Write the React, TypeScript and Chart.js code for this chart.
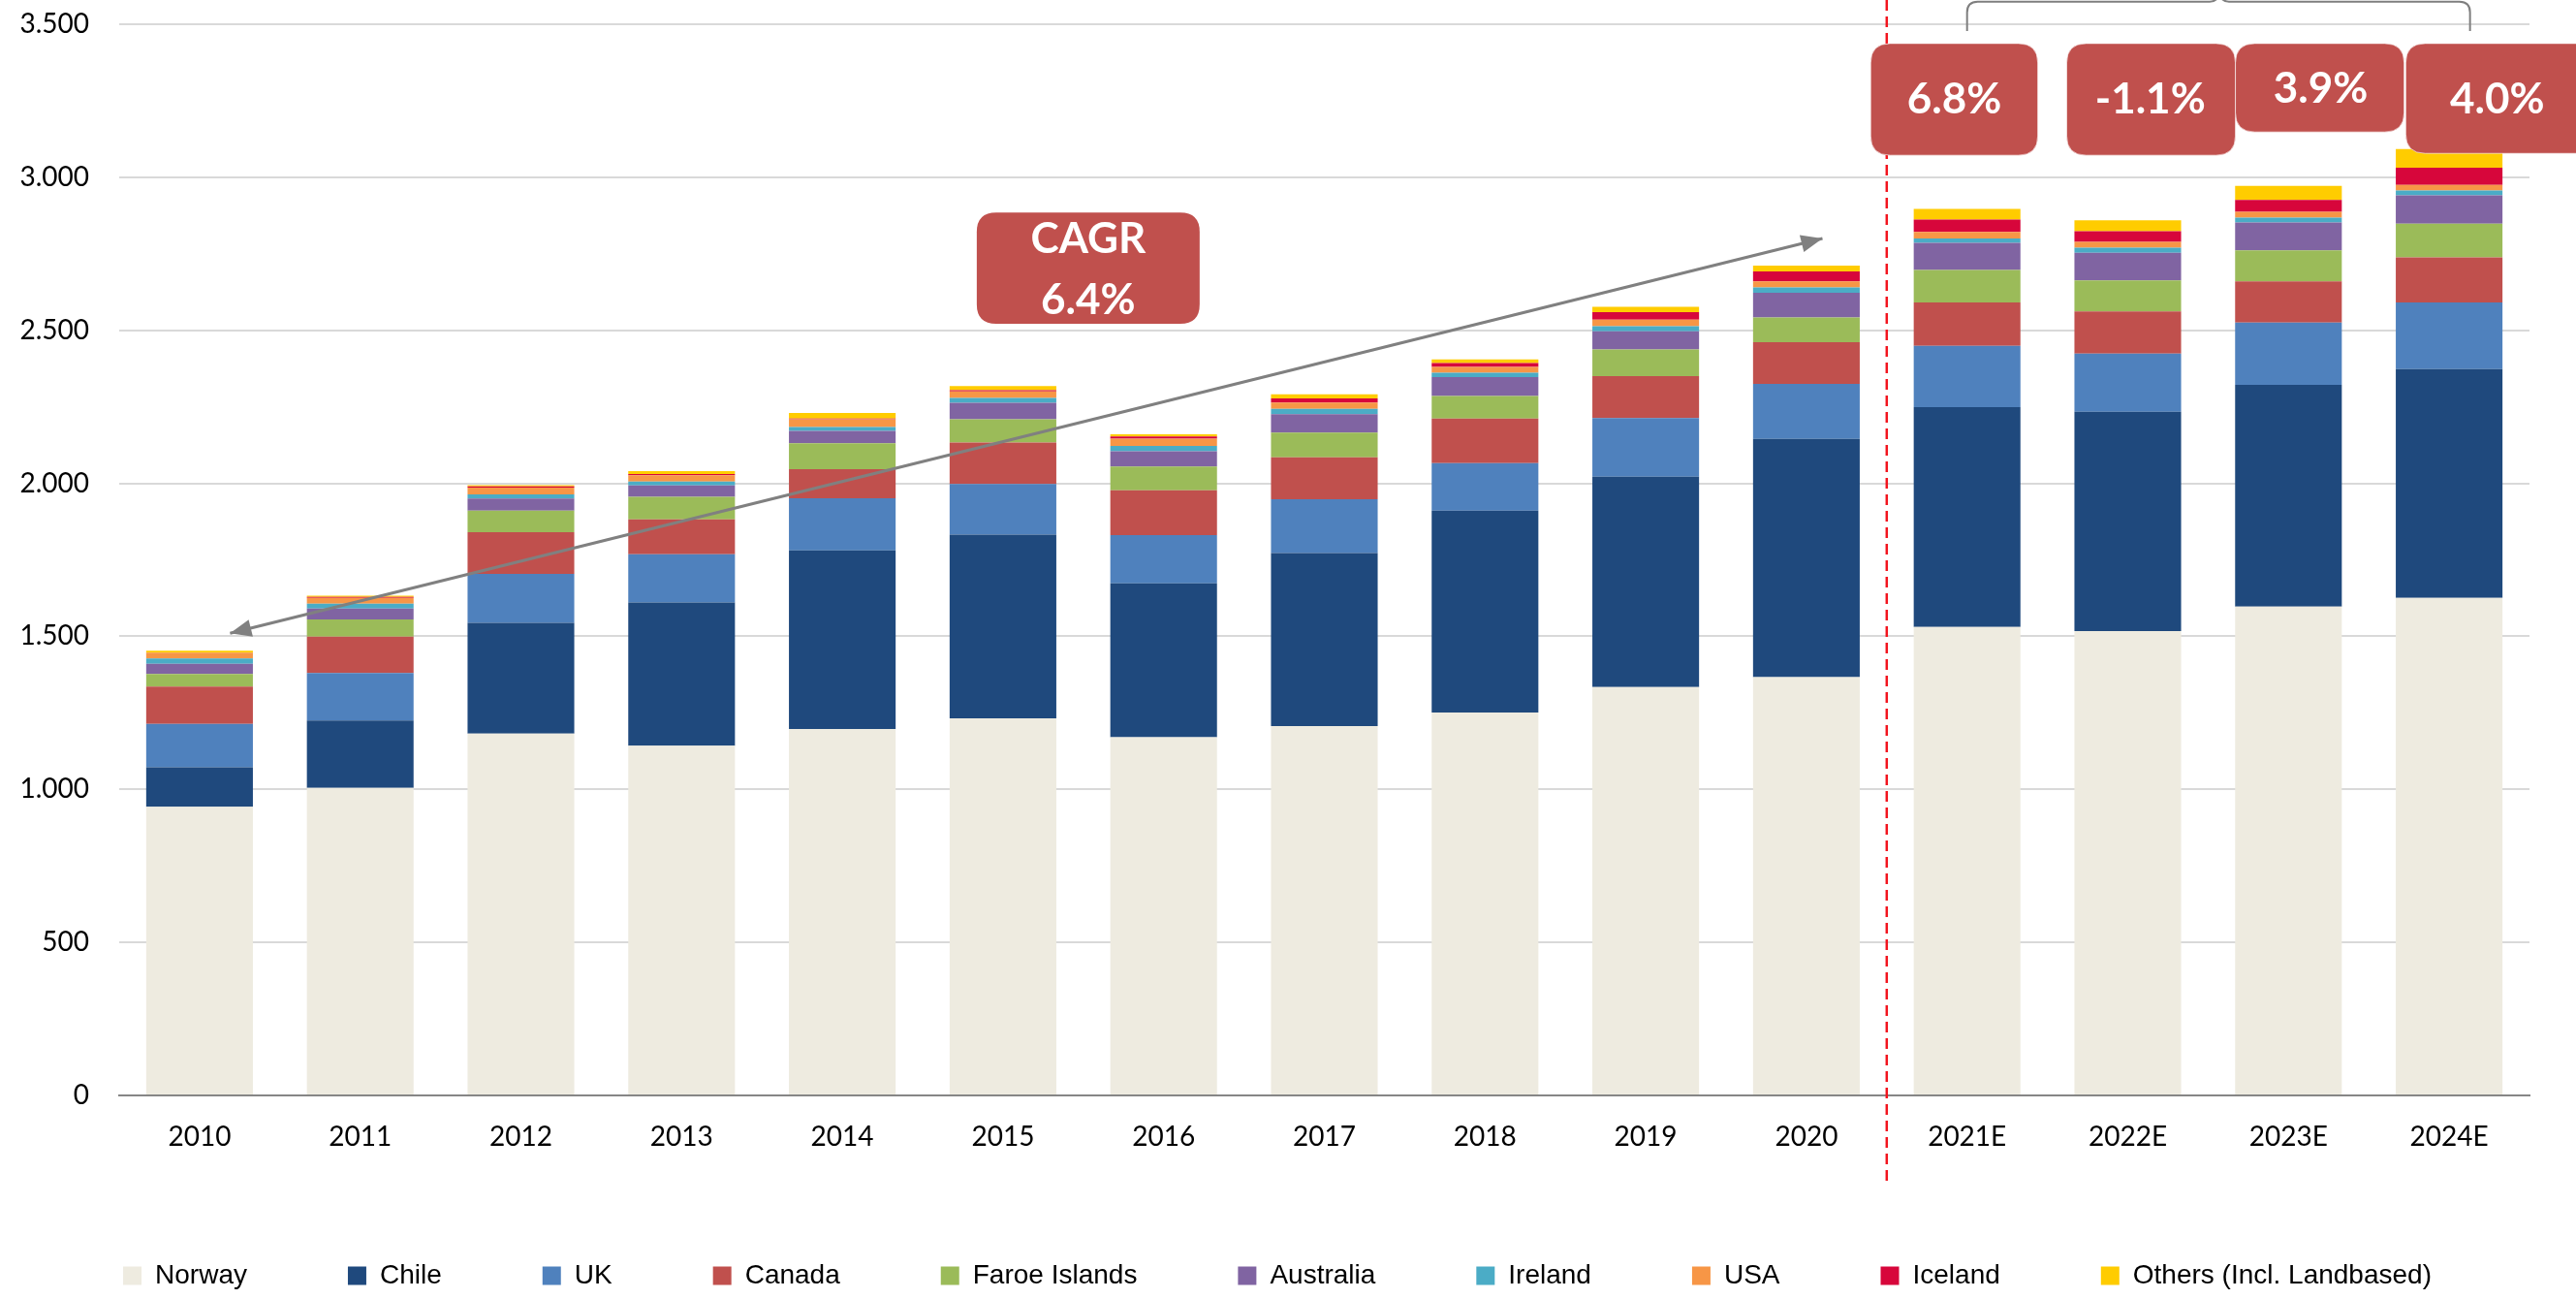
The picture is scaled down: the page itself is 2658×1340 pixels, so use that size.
import React, { useEffect, useRef } from 'react';
import { Chart, registerables } from 'chart.js';

Chart.register(...registerables);

const years = ['2010', '2011', '2012', '2013', '2014', '2015', '2016', '2017', '2018', '2019', '2020', '2021E', '2022E', '2023E', '2024E'];

const norway = [943, 1005, 1182, 1143, 1197, 1232, 1170, 1207, 1251, 1334, 1367, 1531, 1517, 1597, 1626];
const chile = [129, 220, 362, 468, 584, 600, 503, 565, 660, 688, 778, 718, 717, 725, 747];
const uk = [142, 155, 160, 157, 170, 166, 158, 176, 155, 191, 180, 200, 190, 203, 218];
const canada = [122, 119, 136, 114, 95, 135, 146, 137, 146, 137, 136, 142, 138, 135, 147];
const faroe = [41, 56, 71, 74, 85, 76, 78, 81, 73, 87, 81, 106, 101, 101, 110];
const australia = [33, 36, 39, 37, 40, 54, 50, 60, 62, 60, 81, 89, 90, 91, 93];
const ireland = [18, 16, 14, 13, 13, 16, 17, 17, 14, 16, 17, 14, 17, 16, 16];
const usa = [19, 19, 22, 20, 25, 21, 24, 21, 19, 22, 20, 21, 19, 19, 18];
const iceland = [0, 3, 4, 4, 3, 4, 7, 13, 13, 24, 32, 41, 35, 39, 56];
const others = [6, 4, 4, 10, 18, 14, 7, 14, 12, 18, 19, 35, 35, 46, 61];

const seriesNames = ['Norway', 'Chile', 'UK', 'Canada', 'Faroe Islands', 'Australia', 'Ireland', 'USA', 'Iceland', 'Others (Incl. Landbased)'];
const seriesColors = ['#EEEBE0', '#1F497D', '#4F81BD', '#C0504D', '#9BBB59', '#8064A2', '#4BACC6', '#F79646', '#D7063B', '#FFCC00'];
const seriesValues = [norway, chile, uk, canada, faroe, australia, ireland, usa, iceland, others];

const yTicks = [0, 500, 1000, 1500, 2000, 2500, 3000, 3500];

const cagrLines = ['CAGR', '6.4%'];
const growthLabels = ['6.8%', '-1.1%', '3.9%', '4.0%'];

const FONT = "Lato, 'Liberation Sans', sans-serif";
const LEGEND_FONT = "'Liberation Sans', Arial, sans-serif";
const BOX_RED = '#C0504D';

function fmt(v: number): string {
  return String(v).replace(/\B(?=(\d{3})+(?!\d))/g, '.');
}

function rrect(ctx: CanvasRenderingContext2D, x0: number, y0: number, x1: number, y1: number, r: number) {
  ctx.beginPath();
  ctx.moveTo(x0 + r, y0);
  ctx.lineTo(x1 - r, y0);
  ctx.quadraticCurveTo(x1, y0, x1, y0 + r);
  ctx.lineTo(x1, y1 - r);
  ctx.quadraticCurveTo(x1, y1, x1 - r, y1);
  ctx.lineTo(x0 + r, y1);
  ctx.quadraticCurveTo(x0, y1, x0, y1 - r);
  ctx.lineTo(x0, y0 + r);
  ctx.quadraticCurveTo(x0, y0, x0 + r, y0);
  ctx.closePath();
}

function arrowHead(ctx: CanvasRenderingContext2D, tipX: number, tipY: number, fromX: number, fromY: number) {
  const ang = Math.atan2(tipY - fromY, tipX - fromX);
  const len = 22;
  const hw = 9;
  const bx = tipX - len * Math.cos(ang);
  const by = tipY - len * Math.sin(ang);
  ctx.beginPath();
  ctx.moveTo(tipX, tipY);
  ctx.lineTo(bx + hw * Math.sin(ang), by - hw * Math.cos(ang));
  ctx.lineTo(bx - hw * Math.sin(ang), by + hw * Math.cos(ang));
  ctx.closePath();
  ctx.fill();
}

const annotations = {
  id: 'annotations',
  afterDatasetsDraw(chart: any) {
    const ctx: CanvasRenderingContext2D = chart.ctx;
    const xs = chart.scales.x;
    const ys = chart.scales.y;
    const step = xs.getPixelForValue(1) - xs.getPixelForValue(0);
    const px = (i: number) => xs.getPixelForValue(0) + i * step;
    const py = (v: number) => ys.getPixelForValue(v);
    ctx.save();

    // forecast divider
    ctx.strokeStyle = '#F2141E';
    ctx.lineWidth = 2.5;
    ctx.setLineDash([11, 6]);
    ctx.beginPath();
    ctx.moveTo(px(10.5), 0);
    ctx.lineTo(px(10.5), py(-298));
    ctx.stroke();
    ctx.setLineDash([]);

    // CAGR arrow
    const ax = px(0.19), ay = py(1510), bx = px(10.1), by = py(2800);
    ctx.strokeStyle = '#808080';
    ctx.fillStyle = '#808080';
    ctx.lineWidth = 3;
    ctx.beginPath();
    ctx.moveTo(ax, ay);
    ctx.lineTo(bx, by);
    ctx.stroke();
    arrowHead(ctx, ax, ay, bx, by);
    arrowHead(ctx, bx, by, ax, ay);

    // brace
    const bL = px(11.0), bR = px(14.13), bM = px(12.57);
    const bBot = py(3478), bTop = py(3574);
    ctx.strokeStyle = '#7F7F7F';
    ctx.lineWidth = 2;
    ctx.beginPath();
    ctx.moveTo(bL, bBot);
    ctx.lineTo(bL, bTop + 11);
    ctx.quadraticCurveTo(bL, bTop, bL + 11, bTop);
    ctx.lineTo(bM - 10, bTop);
    ctx.quadraticCurveTo(bM, bTop, bM, bTop - 12);
    ctx.moveTo(bM, bTop - 12);
    ctx.quadraticCurveTo(bM, bTop, bM + 10, bTop);
    ctx.lineTo(bR - 11, bTop);
    ctx.quadraticCurveTo(bR, bTop, bR, bTop + 11);
    ctx.lineTo(bR, bBot);
    ctx.stroke();

    // CAGR box
    ctx.fillStyle = BOX_RED;
    rrect(ctx, px(4.837), py(2885), px(6.224), py(2521), 20);
    ctx.fill();
    ctx.fillStyle = '#FFFFFF';
    ctx.font = `bold 44px ${FONT}`;
    ctx.textAlign = 'center';
    ctx.textBaseline = 'middle';
    const cx = (px(4.837) + px(6.224)) / 2;
    ctx.fillText(cagrLines[0], cx, py(2797));
    ctx.fillText(cagrLines[1], cx, py(2597));

    // growth boxes
    const boxes = [
      { x0: 10.40, x1: 11.44, top: 3437, bot: 3072, tx: 10.92, ty: 3253 },
      { x0: 11.62, x1: 12.67, top: 3437, bot: 3072, tx: 12.14, ty: 3253 },
      { x0: 12.67, x1: 13.72, top: 3437, bot: 3148, tx: 13.20, ty: 3288 },
      { x0: 13.73, x1: 14.95, top: 3437, bot: 3078, tx: 14.30, ty: 3253 },
    ];
    boxes.forEach((b, i) => {
      ctx.fillStyle = BOX_RED;
      ctx.strokeStyle = 'rgba(255,255,255,0.6)';
      ctx.lineWidth = 1;
      rrect(ctx, px(b.x0), py(b.top), px(b.x1), py(b.bot), 20);
      ctx.fill();
      ctx.stroke();
      ctx.fillStyle = '#FFFFFF';
      ctx.font = `bold 44px ${FONT}`;
      ctx.fillText(growthLabels[i], px(b.tx), py(b.ty));
    });

    ctx.restore();
  },
};

export default function App() {
  const canvasRef = useRef<HTMLCanvasElement | null>(null);

  useEffect(() => {
    if (!canvasRef.current) return;
    const chart = new Chart(canvasRef.current, {
      type: 'bar',
      data: {
        labels: years,
        datasets: seriesNames.map((name, i) => ({
          label: name,
          data: seriesValues[i],
          backgroundColor: seriesColors[i],
          borderWidth: 0,
          categoryPercentage: 1,
          barPercentage: 0.664,
        })),
      },
      options: {
        animation: false,
        responsive: true,
        maintainAspectRatio: false,
        layout: { padding: { top: 25, right: 22, left: 0, bottom: 0 } },
        plugins: {
          tooltip: { enabled: false },
          legend: {
            position: 'bottom',
            labels: {
              boxWidth: 19,
              boxHeight: 19,
              padding: 104,
              color: '#000000',
              font: { family: LEGEND_FONT, size: 28 },
            },
          },
        },
        scales: {
          x: {
            stacked: true,
            grid: { display: false, drawTicks: false },
            border: { display: true, color: '#868686', width: 2 },
            ticks: { color: '#000000', font: { family: FONT, size: 28 }, padding: 26, maxRotation: 0 },
            afterFit: (scale: any) => {
              const lh = scale.chart.legend ? scale.chart.legend.height : 0;
              scale.height = scale.chart.height - 1130 - lh;
            },
          },
          y: {
            stacked: true,
            min: 0,
            max: 3500,
            afterBuildTicks: (scale: any) => {
              scale.ticks = yTicks.map((v) => ({ value: v }));
            },
            grid: { color: '#D9D9D9', lineWidth: 2, drawTicks: false },
            border: { display: false },
            ticks: {
              color: '#000000',
              font: { family: FONT, size: 28 },
              padding: 31,
              callback: (v: any) => fmt(Number(v)),
            },
            afterFit: (scale: any) => {
              scale.width = 123;
              scale.paddingTop = 0;
              scale.paddingBottom = 0;
            },
          },
          yRight: {
            type: 'linear',
            position: 'right',
            display: true,
            min: 0,
            max: 3500,
            grid: { display: false, drawTicks: false },
            border: { display: false },
            ticks: { display: false },
            afterFit: (scale: any) => {
              scale.width = 26;
              scale.paddingTop = 0;
              scale.paddingBottom = 0;
            },
          },
        },
      },
      plugins: [annotations],
    });
    return () => chart.destroy();
  }, []);

  return (
    <div style={{ position: 'fixed', left: 0, top: 0, width: '2658px', height: '1340px', background: '#FFFFFF' }}>
      <canvas ref={canvasRef} />
    </div>
  );
}
